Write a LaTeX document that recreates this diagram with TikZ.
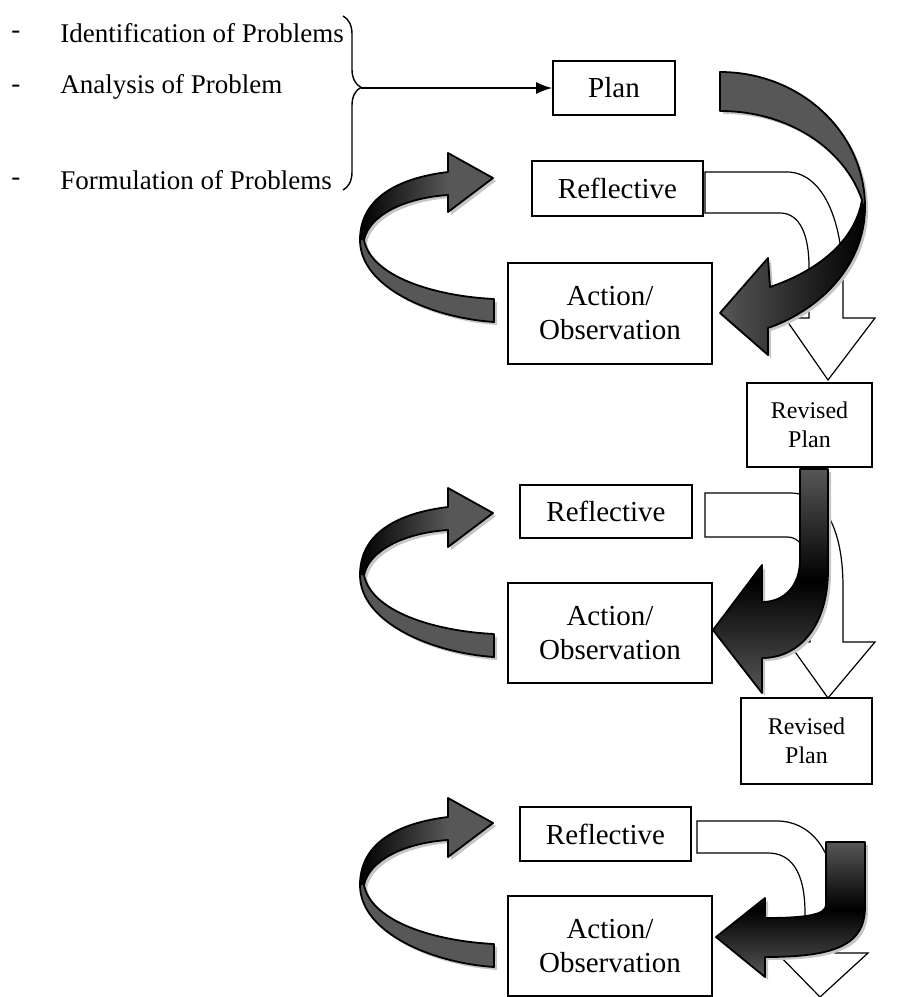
\documentclass[tikz,border=0pt]{standalone}
\usepackage{fontspec}
\setmainfont{Liberation Serif}
\usetikzlibrary{arrows.meta}
\usetikzlibrary{decorations.pathreplacing}

\tikzset{
	box/.style={draw, line width=0.8pt, inner sep=0pt, align=center,
		font=\fontsize{14.5}{17}\selectfont},
	small box/.style={box, font=\fontsize{12}{14.5}\selectfont},
	item/.style={anchor=west, inner sep=0pt, font=\fontsize{13.5}{16}\selectfont},
	dark arrow/.style={draw=black, line width=0.9pt, line join=round},
	hollow arrow/.style={draw=black, fill=white, line width=0.6pt},
	arrow shadow/.style={fill=gray!45, draw=none}
}

\colorlet{ribbon}{gray!68!black}

\begin{document}
\begin{tikzpicture}[x=0.5pt, y=-0.5pt]

\useasboundingbox (0,0) rectangle (902,997);

% Problem list
\node[item] (d1) at (11,35) {-};
\node[item] (d2) at (11,89) {-};
\node[item] (d3) at (11,182) {-};
\node[item] (t1) at (60,33) {Identification of Problems};
\node[item] (t2) at (60,87) {Analysis of Problem};
\node[item] (t3) at (60,180) {Formulation of Problems};

\draw[line width=0.7pt, decorate, decoration={brace, amplitude=9pt, aspect=0.41}]
	(343,16) -- (343,190);
\coordinate (bracetip) at (361,88);

% Boxes
\node[box, minimum width=61pt, minimum height=27pt] (plan) at (614,88) {Plan};
\node[box, minimum width=85.5pt, minimum height=27.5pt] (refl1) at (617.5,188.5) {Reflective};
\node[box, minimum width=102pt, minimum height=50.5pt] (act1) at (610,313.5) {Action/\\Observation};
\node[small box, minimum width=62.5pt, minimum height=42pt] (rev1) at (809.5,425) {Revised\\Plan};

\node[box, minimum width=86pt, minimum height=26.5pt] (refl2) at (606,511.5) {Reflective};
\node[box, minimum width=102pt, minimum height=50pt] (act2) at (610,633) {Action/\\Observation};
\node[small box, minimum width=65.5pt, minimum height=43pt] (rev2) at (806.5,741) {Revised\\Plan};

\node[box, minimum width=85.5pt, minimum height=27pt] (refl3) at (605.5,834) {Reflective};
\node[box, minimum width=102pt, minimum height=50pt] (act3) at (610,946) {Action/\\Observation};

\draw[line width=0.8pt, -{Latex[length=8pt, width=6pt]}] (bracetip) -- (plan.west);

% Cycle arrows on the left
\def\cyclepath{(1,144) .. controls (-60,140) and (-133,110) .. (-133,62)
	.. controls (-133,20) and (-95,0) .. (-45,-6) -- (-45,-25) -- (0,0)
	-- (-45,34) -- (-45,17) .. controls (-90,20) and (-124,38) .. (-129,62)
	.. controls (-122,98) and (-60,118) .. (1,121) -- cycle}
\def\cycletop{(-133,62) .. controls (-133,20) and (-95,0) .. (-45,-6)
	-- (-45,17) .. controls (-90,20) and (-124,38) .. (-129,62) -- cycle}

\foreach \T in {178,513,823} {
	\begin{scope}[shift={(493,\T)}]
		\fill[arrow shadow, shift={(3,3)}] \cyclepath;
		\fill[ribbon] \cyclepath;
		\shade[left color=black, right color=ribbon] \cycletop;
		\draw[dark arrow] \cyclepath;
	\end{scope}
}

% Hollow arrows
\draw[hollow arrow] (705,172) -- (787,172) .. controls (820,172) and (843,215) .. (843,283)
	-- (843,318) -- (875,318) -- (828,380) -- (785,318) -- (809,318) -- (809,267)
	.. controls (809,235) and (800,213) .. (780,213) -- (705,213) -- cycle;
\draw[hollow arrow] (705,493) -- (790,493) .. controls (825,493) and (843,530) .. (843,587)
	-- (843,642) -- (875,642) -- (828,698) -- (788,642) -- (810,642) -- (810,590)
	.. controls (810,560) and (805,537) .. (787,537) -- (705,537) -- cycle;
\draw[hollow arrow] (697,821) -- (777,821) .. controls (810,821) and (835,850) .. (835,900)
	-- (835,953) -- (868,953) -- (820,997) -- (777,953) -- (805,953) -- (805,913)
	.. controls (805,870) and (790,853) .. (768,853) -- (697,853) -- cycle;

% Turning arrows on the right
\def\turnA{(720,72) .. controls (800,72) and (865,132) .. (865,207)
	.. controls (865,265) and (820,310) .. (768,328) -- (768,355) -- (720,313)
	-- (768,258) -- (770,287) .. controls (820,270) and (855,240) .. (862,200)
	.. controls (845,150) and (790,111) .. (720,111) -- cycle}
\fill[arrow shadow, shift={(3,3)}] \turnA;
\fill[ribbon] \turnA;
\shade[left color=ribbon, right color=black] (865,207)
	.. controls (865,265) and (820,310) .. (768,328) -- (768,355) -- (720,313)
	-- (768,258) -- (770,287) .. controls (820,270) and (855,240) .. (862,200) -- cycle;
\draw[dark arrow] \turnA;

\def\turnB{(800,469) -- (828,469) -- (828,570) .. controls (828,625) and (800,658) .. (762,658)
	-- (762,693) -- (713,630) -- (762,565) -- (762,602)
	.. controls (785,602) and (800,585) .. (800,560) -- cycle}
\fill[arrow shadow, shift={(3,3)}] \turnB;
\shade[top color=ribbon, bottom color=ribbon, middle color=black] \turnB;
\draw[dark arrow] \turnB;

\def\turnC{(826,842) -- (865,842) -- (865,907) .. controls (865,945) and (835,957) .. (765,957)
	-- (765,977) -- (716,937) -- (765,898) -- (765,918)
	.. controls (805,918) and (826,915) .. (826,905) -- cycle}
\fill[arrow shadow, shift={(3,3)}] \turnC;
\shade[top color=ribbon, bottom color=ribbon, middle color=black] \turnC;
\draw[dark arrow] \turnC;

\end{tikzpicture}
\end{document}
